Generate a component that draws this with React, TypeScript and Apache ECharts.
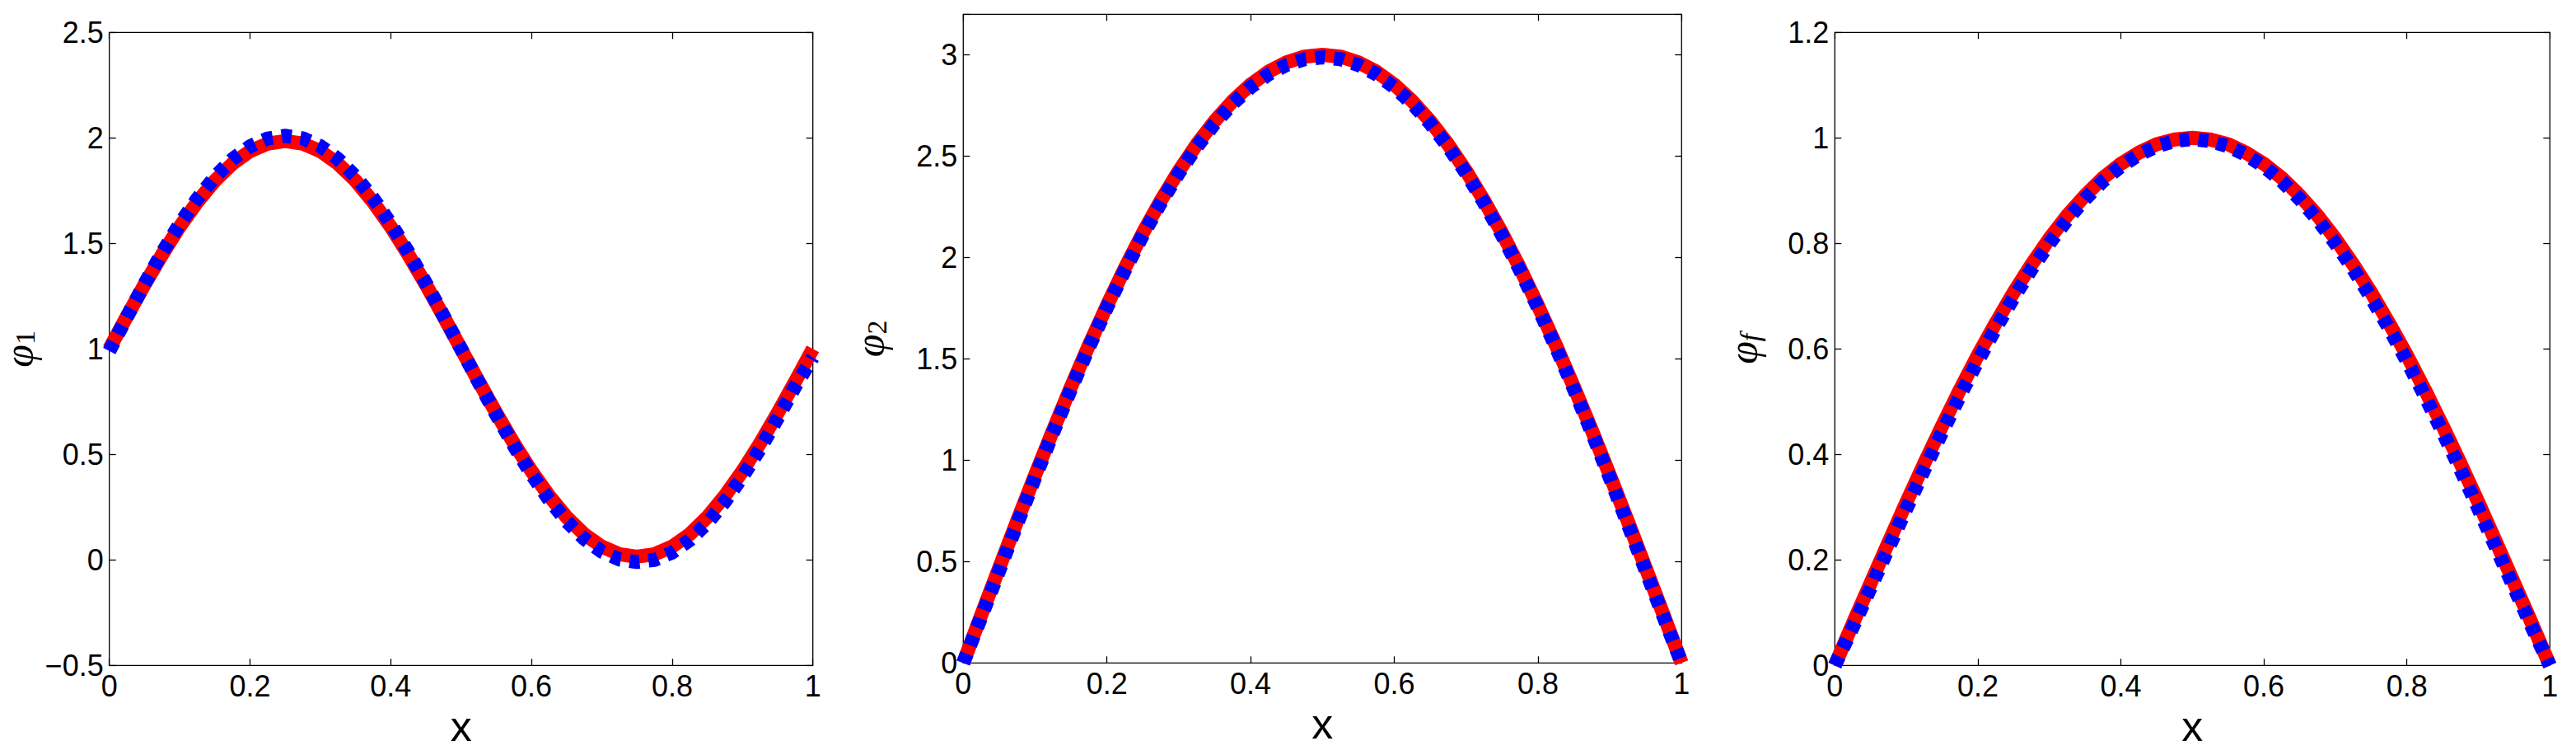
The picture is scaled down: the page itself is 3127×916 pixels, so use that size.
import React, { useEffect, useRef } from "react";
import * as echarts from "echarts";

// x grid shared by all three panels
const X = [
  0, 0.025, 0.05, 0.075, 0.1, 0.125, 0.15, 0.175, 0.2, 0.225, 0.25, 0.275, 0.3, 0.325, 0.35, 0.375, 0.4,
  0.425, 0.45, 0.475, 0.5, 0.525, 0.55, 0.575, 0.6, 0.625, 0.65, 0.675, 0.7, 0.725, 0.75, 0.775, 0.8,
  0.825, 0.85, 0.875, 0.9, 0.925, 0.95, 0.975, 1,
];

// Panel 1 (phi_1)
const P1_RED = [
  1.0, 1.154, 1.304, 1.447, 1.579, 1.696, 1.797, 1.878, 1.937, 1.973, 1.985, 1.973, 1.937, 1.878, 1.797,
  1.696, 1.579, 1.447, 1.304, 1.154, 1.0, 0.846, 0.696, 0.553, 0.421, 0.304, 0.203, 0.122, 0.063, 0.027,
  0.015, 0.027, 0.063, 0.122, 0.203, 0.304, 0.421, 0.553, 0.696, 0.846, 1.0,
];
const P1_BLUE = [
  0.99, 1.152, 1.308, 1.456, 1.592, 1.712, 1.815, 1.899, 1.96, 1.997, 2.01, 1.998, 1.961, 1.9, 1.817,
  1.714, 1.594, 1.459, 1.312, 1.158, 1.0, 0.842, 0.688, 0.541, 0.406, 0.286, 0.183, 0.1, 0.039, 0.002,
  -0.01, 0.0, 0.035, 0.094, 0.175, 0.276, 0.394, 0.527, 0.672, 0.822, 0.96,
];

// Panel 2 (phi_2)
const P2_RED = [
  0, 0.236, 0.469, 0.7, 0.927, 1.148, 1.362, 1.568, 1.763, 1.948, 2.121, 2.281, 2.427, 2.558, 2.673, 2.772,
  2.853, 2.917, 2.963, 2.991, 3.0, 2.991, 2.963, 2.917, 2.853, 2.772, 2.673, 2.558, 2.427, 2.281, 2.121,
  1.948, 1.763, 1.568, 1.362, 1.148, 0.927, 0.7, 0.469, 0.236, 0,
];
const P2_BLUE = [
  0, 0.226, 0.455, 0.686, 0.914, 1.136, 1.351, 1.557, 1.753, 1.937, 2.11, 2.27, 2.416, 2.546, 2.661, 2.759,
  2.84, 2.904, 2.95, 2.978, 2.988, 2.978, 2.95, 2.904, 2.84, 2.759, 2.661, 2.546, 2.416, 2.27, 2.11,
  1.937, 1.753, 1.557, 1.351, 1.136, 0.914, 0.686, 0.455, 0.226, 0,
];

// Panel 3 (phi_f)
const P3_RED = [
  0, 0.079, 0.156, 0.233, 0.309, 0.383, 0.454, 0.523, 0.588, 0.649, 0.707, 0.76, 0.809, 0.853, 0.891, 0.924,
  0.951, 0.972, 0.988, 0.997, 1.0, 0.997, 0.988, 0.972, 0.951, 0.924, 0.891, 0.853, 0.809, 0.76, 0.707,
  0.649, 0.588, 0.523, 0.454, 0.383, 0.309, 0.233, 0.156, 0.079, 0,
];
const P3_BLUE = [
  0, 0.072, 0.147, 0.222, 0.297, 0.371, 0.442, 0.511, 0.577, 0.639, 0.697, 0.751, 0.8, 0.845, 0.884, 0.918,
  0.946, 0.968, 0.984, 0.994, 0.998, 0.994, 0.984, 0.968, 0.946, 0.918, 0.884, 0.845, 0.8, 0.751, 0.697,
  0.639, 0.577, 0.511, 0.442, 0.371, 0.297, 0.222, 0.147, 0.072, 0,
];

// Axis settings per panel
const Y_MIN = [-0.5, 0, 0];
const Y_MAX = [2.5, 3.2, 1.2];
const Y_STEP = [0.5, 0.5, 0.2];
const Y_SUB = ["1", "2", "f"];
const X_MIN = 0;
const X_MAX = 1;
const X_STEP = 0.2;

const RED_SERIES = [P1_RED, P2_RED, P3_RED];
const BLUE_SERIES = [P1_BLUE, P2_BLUE, P3_BLUE];

const GRIDS = [
  { left: 132.7, top: 39.3, width: 854, height: 768 },
  { left: 1169.3, top: 17.3, width: 872, height: 787 },
  { left: 2227.3, top: 39.3, width: 868, height: 768 },
];
const NAME_GAPS = [85, 88, 86];

const SANS = "'Liberation Sans Narrow', 'Liberation Sans', Arial, sans-serif";
const SERIF = "'Liberation Serif', 'DejaVu Serif', serif";

export default function App() {
  const ref = useRef<HTMLDivElement>(null);

  useEffect(() => {
    if (!ref.current) return;
    const chart = echarts.init(ref.current, undefined, { renderer: "svg" });

    const tickStyle = { inside: true, length: 8, lineStyle: { color: "#000", width: 1.3 } };
    const labelStyle = { color: "#000", fontSize: 36, fontFamily: SANS };
    const noLine = { show: false, onZero: false };

    const grid: any[] = [];
    const xAxis: any[] = [];
    const yAxis: any[] = [];
    const series: any[] = [];

    for (let i = 0; i < 3; i++) {
      grid.push({
        ...GRIDS[i],
        show: true,
        backgroundColor: "#fff",
        borderColor: "#000",
        borderWidth: 1.3,
        containLabel: false,
        outerBoundsMode: "none",
      });
      // bottom x axis
      xAxis.push({
        type: "value",
        gridIndex: i,
        position: "bottom",
        min: X_MIN,
        max: X_MAX,
        interval: X_STEP,
        axisLine: noLine,
        axisTick: tickStyle,
        splitLine: { show: false },
        axisLabel: { ...labelStyle, margin: 7 },
        name: "x",
        nameLocation: "middle",
        nameGap: 40,
        nameTextStyle: { color: "#000", fontSize: 52, fontFamily: SANS },
      });
      // top mirror x axis
      xAxis.push({
        type: "value",
        gridIndex: i,
        position: "top",
        min: X_MIN,
        max: X_MAX,
        interval: X_STEP,
        axisLine: noLine,
        axisTick: tickStyle,
        splitLine: { show: false },
        axisLabel: { show: false },
      });
      const maxV = Y_MAX[i];
      const step = Y_STEP[i];
      yAxis.push({
        type: "value",
        gridIndex: i,
        position: "left",
        min: Y_MIN[i],
        max: maxV,
        interval: step,
        axisLine: noLine,
        axisTick: tickStyle,
        splitLine: { show: false },
        axisLabel: {
          ...labelStyle,
          margin: 7,
          formatter: (v: number) => {
            const r = Math.round(v / step);
            if (Math.abs(r * step - v) > 1e-6) return "";
            return String(v).replace("-", "\u2212");
          },
        },
        name: `{a|\u03c6}{b|${Y_SUB[i]}}`,
        nameLocation: "middle",
        nameRotate: 90,
        nameGap: NAME_GAPS[i],
        nameTextStyle: {
          rich: {
            a: { fontFamily: SERIF, fontStyle: "italic", fontSize: 50, lineHeight: 50, color: "#000" },
            b: {
              fontFamily: SERIF,
              fontStyle: Y_SUB[i] === "f" ? "italic" : "normal",
              fontSize: 34,
              lineHeight: 26,
              verticalAlign: "bottom",
              color: "#000",
            },
          },
        },
      });
      yAxis.push({
        type: "value",
        gridIndex: i,
        position: "right",
        min: Y_MIN[i],
        max: maxV,
        interval: step,
        axisLine: noLine,
        axisTick: tickStyle,
        splitLine: { show: false },
        axisLabel: { show: false },
      });

      series.push({
        type: "line",
        xAxisIndex: i * 2,
        yAxisIndex: i * 2,
        data: X.map((x, k) => [x, RED_SERIES[i][k]]),
        symbol: "none",
        clip: true,
        lineStyle: { color: "#ff0000", width: 17, cap: "butt" },
      });
      series.push({
        type: "line",
        xAxisIndex: i * 2,
        yAxisIndex: i * 2,
        data: X.map((x, k) => [x, BLUE_SERIES[i][k]]),
        symbol: "none",
        clip: true,
        lineStyle: { color: "#0000ff", width: 17, type: [12, 11], cap: "butt" },
      });
    }

    chart.setOption({
      animation: false,
      backgroundColor: "#fff",
      grid,
      xAxis,
      yAxis,
      series,
    });

    return () => chart.dispose();
  }, []);

  return (
    <div
      ref={ref}
      style={{ position: "fixed", left: 0, top: 0, width: 3127, height: 916, background: "#fff" }}
    />
  );
}
